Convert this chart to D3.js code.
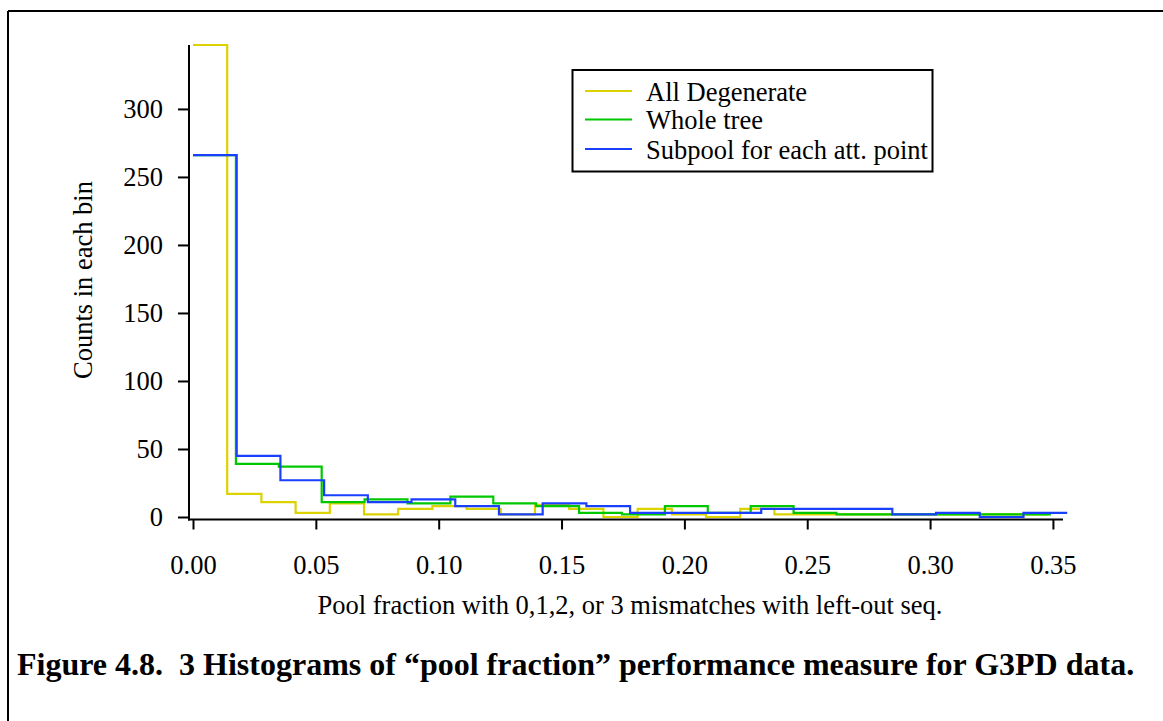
<!DOCTYPE html>
<html>
<head>
<meta charset="utf-8">
<script src="https://cdn.jsdelivr.net/npm/d3@7"></script>
<style>
  html, body { margin: 0; padding: 0; background: #fff; }
  svg { display: block; }
  text { font-family: "Liberation Serif", "Times New Roman", serif; fill: #000; }
</style>
</head>
<body>
<svg id="chart" width="1163" height="721"></svg>
<script>
// ---- data ----
const seriesNames = ["All Degenerate", "Whole tree", "Subpool for each att. point"];
const binWidths = [0.01392, 0.01746, 0.01779];   // bin width of each histogram (x units)
const allDegenerateCounts = [347, 17, 11, 3, 10, 2, 6, 8, 6, 2, 9, 6, 0, 6, 2, 0, 6, 2, 2, 2, 2, 2, 2, 2, 2];
const wholeTreeCounts     = [266, 39, 37, 11, 13, 10, 15, 10, 8, 3, 2, 8, 3, 8, 3, 2, 2, 2, 2, 2];
const subpoolCounts       = [266, 45, 27, 16, 11, 13, 8, 2, 10, 8, 3, 3, 3, 6, 6, 6, 2, 3, 0, 3];
const xTicks = [0, 0.05, 0.10, 0.15, 0.20, 0.25, 0.30, 0.35];
const yTicks = [0, 50, 100, 150, 200, 250, 300];
const xDomain = [0, 0.3541];
const yDomain = [0, 347];
const xTitle = "Pool fraction with 0,1,2, or 3 mismatches with left-out seq.";
const yTitle = "Counts in each bin";
const caption = "Figure 4.8.\u00A0 3 Histograms of \u201Cpool fraction\u201D performance measure for G3PD data.";
const colors = ["#dcd200", "#00c800", "#1a40ff"];

// ---- layout ----
const svg = d3.select("#chart");
const x = d3.scaleLinear().domain(xDomain).range([193, 1063]);
const y = d3.scaleLinear().domain(yDomain).range([517, 45]);
const fs = 26.5;

// figure frame (top and left)
svg.append("line").attr("x1", 8).attr("x2", 1163).attr("y1", 11).attr("y2", 11)
  .attr("stroke", "#000").attr("stroke-width", 2);
svg.append("line").attr("x1", 8).attr("x2", 8).attr("y1", 11).attr("y2", 721)
  .attr("stroke", "#000").attr("stroke-width", 2);

// histograms
const allCounts = [allDegenerateCounts, wholeTreeCounts, subpoolCounts];
const stepLine = d3.line().x(d => x(d[0])).y(d => y(d[1])).curve(d3.curveStepAfter);
allCounts.forEach((counts, i) => {
  const w = binWidths[i];
  const pts = counts.map((c, k) => [k * w, c]);
  pts.push([counts.length * w, counts[counts.length - 1]]);
  svg.append("path").attr("d", stepLine(pts))
    .attr("fill", "none").attr("stroke", colors[i]).attr("stroke-width", 2.2)
    .attr("stroke-linejoin", "miter");
});

// y axis
const yAxis = d3.axisLeft(y).tickValues(yTicks).tickSize(11).tickPadding(15).tickFormat(d3.format("d"));
const gy = svg.append("g").attr("transform", "translate(189,0)").call(yAxis);
gy.select(".domain").remove();
gy.append("line").attr("x1", 0).attr("x2", 0).attr("y1", 45).attr("y2", 520.5)
  .attr("stroke", "#000").attr("stroke-width", 2);
gy.selectAll(".tick line").attr("stroke", "#000").attr("stroke-width", 2);
gy.selectAll(".tick text").attr("font-size", fs).attr("fill", "#000")
  .attr("font-family", "Liberation Serif").attr("dy", "0.33em");

// x axis
const xAxis = d3.axisBottom(x).tickValues(xTicks).tickSize(10).tickPadding(26).tickFormat(d3.format(".2f"));
const gx = svg.append("g").attr("transform", "translate(0,519.5)").call(xAxis);
gx.select(".domain").remove();
gx.append("line").attr("x1", 188).attr("x2", 1063).attr("y1", 0).attr("y2", 0)
  .attr("stroke", "#000").attr("stroke-width", 2);
gx.selectAll(".tick line").attr("stroke", "#000").attr("stroke-width", 2);
gx.selectAll(".tick text").attr("font-size", fs).attr("fill", "#000")
  .attr("font-family", "Liberation Serif");

// axis titles
svg.append("text").attr("transform", "translate(92,280) rotate(-90)")
  .attr("text-anchor", "middle").attr("font-size", fs).text(yTitle);
svg.append("text").attr("x", 630).attr("y", 614)
  .attr("text-anchor", "middle").attr("font-size", fs).text(xTitle);

// legend
const lg = svg.append("g");
lg.append("rect").attr("x", 572.5).attr("y", 70).attr("width", 360).attr("height", 101.5)
  .attr("fill", "#fff").attr("stroke", "#000").attr("stroke-width", 2);
const lgY = [91, 119.5, 149];
seriesNames.forEach((name, i) => {
  lg.append("line").attr("x1", 585).attr("x2", 632).attr("y1", lgY[i]).attr("y2", lgY[i])
    .attr("stroke", colors[i]).attr("stroke-width", 2);
  lg.append("text").attr("x", 646).attr("y", lgY[i] + 9.5).attr("font-size", fs).text(name);
});

// caption: font size fitted so the natural width spans the reference width
const cap = svg.append("text").attr("x", 17).attr("y", 675).attr("font-size", 30)
  .attr("font-weight", "bold").text(caption);
const natural = cap.node().getComputedTextLength();
const capSize = Math.min(32, 30 * 1124 / natural);
cap.attr("font-size", capSize);
</script>
</body>
</html>
